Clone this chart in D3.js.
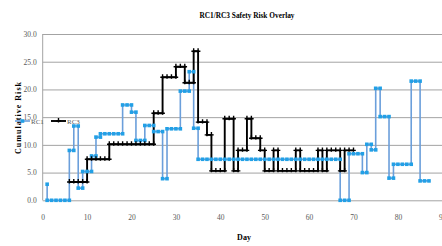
<!DOCTYPE html>
<html>
<head>
<meta charset="utf-8">
<script src="https://cdn.jsdelivr.net/npm/d3@7"></script>
<style>
  body { margin: 0; background: #fff; }
  text { font-family: "Liberation Serif", "Times New Roman", serif; }
</style>
</head>
<body>
<script>
// data: [day, cumulative risk]
const rc1 = [
  [1, 2.9], [1, 0], [2, 0], [3, 0], [4, 0], [5, 0], [6, 0],
  [6, 9.0], [7, 9.0],
  [7, 13.4], [8, 13.4],
  [8, 2.2], [9, 2.2],
  [9, 5.2], [10, 5.2], [11, 5.2],
  [11, 8.0], [12, 8.0],
  [12, 11.4], [13, 11.4],
  [13, 12.0], [14, 12.0], [15, 12.0], [16, 12.0], [17, 12.0], [18, 12.0],
  [18, 17.2], [19, 17.2], [20, 17.2],
  [20, 15.9], [21, 15.9],
  [21, 10.8], [22, 10.8], [23, 10.8],
  [23, 13.5], [24, 13.5], [25, 13.5],
  [25, 12.4], [26, 12.4], [27, 12.4],
  [27, 3.9], [28, 3.9],
  [28, 12.9], [29, 12.9], [30, 12.9], [31, 12.9],
  [31, 19.7], [32, 19.7], [33, 19.7],
  [33, 23.2], [34, 23.2],
  [34, 13.0], [35, 13.0],
  [35, 7.4], [36, 7.4], [37, 7.4], [38, 7.4], [39, 7.4], [40, 7.4], [41, 7.4],
  [42, 7.4], [43, 7.4], [44, 7.4], [45, 7.4], [46, 7.4], [47, 7.4], [48, 7.4],
  [49, 7.4], [50, 7.4], [51, 7.4], [52, 7.4], [53, 7.4], [54, 7.4], [55, 7.4],
  [56, 7.4], [57, 7.4], [58, 7.4], [59, 7.4], [60, 7.4], [61, 7.4], [62, 7.4],
  [63, 7.4], [64, 7.4], [65, 7.4], [66, 7.4], [67, 7.4],
  [67, 0], [68, 0], [69, 0],
  [69, 8.4], [70, 8.4], [71, 8.4], [72, 8.4],
  [72, 5.0], [73, 5.0],
  [73, 10.1], [74, 10.1],
  [74, 9.1], [75, 9.1],
  [75, 20.2], [76, 20.2],
  [76, 15.1], [77, 15.1], [78, 15.1],
  [78, 4.0], [79, 4.0],
  [79, 6.5], [80, 6.5], [81, 6.5], [82, 6.5], [83, 6.5],
  [83, 21.5], [84, 21.5], [85, 21.5],
  [85, 3.5], [86, 3.5], [87, 3.5]
];

const rc3 = [
  [6, 3.3], [7, 3.3], [8, 3.3], [9, 3.3], [10, 3.3],
  [10, 7.4], [11, 7.4], [12, 7.4], [13, 7.4], [14, 7.4], [15, 7.4],
  [15, 10.1], [16, 10.1], [17, 10.1], [18, 10.1], [19, 10.1], [20, 10.1],
  [21, 10.1], [22, 10.1], [23, 10.1], [24, 10.1], [25, 10.1],
  [25, 15.7], [26, 15.7], [27, 15.7],
  [27, 22.2], [28, 22.2], [29, 22.2], [30, 22.2],
  [30, 24.1], [31, 24.1], [32, 24.1],
  [32, 21.2], [33, 21.2], [34, 21.2],
  [34, 26.9], [35, 26.9],
  [35, 14.1], [36, 14.1], [37, 14.1],
  [37, 11.8], [38, 11.8],
  [38, 5.3], [39, 5.3], [40, 5.3], [41, 5.3],
  [41, 14.7], [42, 14.7], [43, 14.7],
  [43, 5.3], [44, 5.3],
  [44, 9.0], [45, 9.0], [46, 9.0],
  [46, 14.7], [47, 14.7],
  [47, 11.2], [48, 11.2], [49, 11.2],
  [49, 9.0], [50, 9.0],
  [50, 5.3], [51, 5.3], [52, 5.3],
  [52, 9.0], [53, 9.0],
  [53, 5.3], [54, 5.3], [55, 5.3], [56, 5.3], [57, 5.3],
  [57, 9.0], [58, 9.0],
  [58, 5.3], [59, 5.3], [60, 5.3], [61, 5.3], [62, 5.3],
  [62, 9.0], [63, 9.0],
  [63, 5.3], [64, 5.3],
  [64, 9.0], [65, 9.0], [66, 9.0], [67, 9.0],
  [67, 5.3], [68, 5.3],
  [68, 9.0], [69, 9.0], [70, 9.0]
];

const xTicks = [0, 10, 20, 30, 40, 50, 60, 70, 80, 90];
const yTicks = [0, 5, 10, 15, 20, 25, 30];
const seriesNames = ["RC1", "RC3"];

let xScale, yScale, svg;
const width = 442,
  height = 246,
  plotLeft = 42.7,
  plotTop = 34,
  plotBottom = 200.3;

const blueLine = "#6b9fdb",
  blueMark = "#22a0e6",
  gridColor = "#a3a3a3",
  tickColor = "#595959";

// canvas
const drawCanvas = () => {
  svg = d3
    .select("body")
    .append("svg")
    .attr("width", width)
    .attr("height", height)
    .style("background", "#fff");

  svg
    .append("text")
    .attr("x", 247)
    .attr("y", 18)
    .attr("text-anchor", "middle")
    .attr("textLength", 95)
    .attr("lengthAdjust", "spacingAndGlyphs")
    .style("font-size", "8.5px")
    .style("font-weight", "bold")
    .text("RC1/RC3 Safety Risk Overlay");

  svg
    .append("text")
    .attr("transform", "translate(21,118) rotate(-90)")
    .attr("text-anchor", "middle")
    .attr("textLength", 72)
    .attr("lengthAdjust", "spacing")
    .style("font-size", "8px")
    .style("font-weight", "bold")
    .text("Cumulative Risk");

  svg
    .append("text")
    .attr("x", 244)
    .attr("y", 240)
    .attr("text-anchor", "middle")
    .style("font-size", "8px")
    .style("font-weight", "bold")
    .text("Day");
};

// scales
const generateScales = () => {
  xScale = d3.scaleLinear().domain([0, 90]).range([plotLeft, plotLeft + 90 * 4.44]);
  yScale = d3.scaleLinear().domain([0, 30]).range([plotBottom, plotTop]);
};

// axis + gridlines
const generateAxis = () => {
  const yAxis = d3
    .axisLeft(yScale)
    .tickValues(yTicks)
    .tickFormat(d3.format(".1f"))
    .tickSize(-(width - plotLeft))
    .tickPadding(6);

  const gy = svg
    .append("g")
    .attr("transform", "translate(" + plotLeft + ",0)")
    .call(yAxis);
  gy.select(".domain").remove();
  gy.selectAll("line").attr("stroke", gridColor).attr("stroke-width", 1);
  gy.selectAll("text")
    .attr("fill", tickColor)
    .style("font-size", "7.5px")
    .style("font-family", "Liberation Serif, serif");

  svg
    .append("line")
    .attr("x1", plotLeft)
    .attr("x2", plotLeft)
    .attr("y1", plotTop)
    .attr("y2", plotBottom)
    .attr("stroke", gridColor);

  const xAxis = d3.axisBottom(xScale).tickValues(xTicks).tickSize(0).tickPadding(14);
  const gx = svg
    .append("g")
    .attr("transform", "translate(0," + plotBottom + ")")
    .call(xAxis);
  gx.select(".domain").remove();
  gx.selectAll("text")
    .attr("fill", tickColor)
    .style("font-size", "7.5px")
    .style("font-family", "Liberation Serif, serif");
};

const line = d3
  .line()
  .x((d) => xScale(d[0]))
  .y((d) => yScale(d[1]));

const crossPath = "M-2.3,0H2.3M0,-3V1.4";

// series: all lines first, then markers
const drawSeries = () => {
  svg
    .append("path")
    .datum(rc1)
    .attr("d", line)
    .attr("fill", "none")
    .attr("stroke", blueLine)
    .attr("stroke-width", 1.6);

  svg
    .append("path")
    .datum(rc3)
    .attr("d", line)
    .attr("fill", "none")
    .attr("stroke", "#000")
    .attr("stroke-width", 1.9);

  svg
    .append("g")
    .selectAll("rect")
    .data(rc1)
    .enter()
    .append("rect")
    .attr("x", (d) => xScale(d[0]) - 1.8)
    .attr("y", (d) => yScale(d[1]) - 1.8)
    .attr("width", 3.6)
    .attr("height", 3.6)
    .attr("fill", blueMark);

  svg
    .append("g")
    .selectAll("path")
    .data(rc3)
    .enter()
    .append("path")
    .attr("transform", (d) => "translate(" + xScale(d[0]) + "," + yScale(d[1]) + ")")
    .attr("d", crossPath)
    .attr("stroke", "#000")
    .attr("stroke-width", 1.4)
    .attr("fill", "none");
};

// legend
const drawLegend = () => {
  const lg = svg.append("g");
  const items = [
    { name: seriesNames[0], x: 15, color: blueLine },
    { name: seriesNames[1], x: 51, color: "#000" },
  ];
  const ly = 121;

  items.forEach((it, i) => {
    lg.append("line")
      .attr("x1", it.x)
      .attr("x2", it.x + 15)
      .attr("y1", ly)
      .attr("y2", ly)
      .attr("stroke", it.color)
      .attr("stroke-width", i === 0 ? 1.6 : 1.9);
    if (i === 0) {
      lg.append("rect")
        .attr("x", it.x + 7.5 - 1.8)
        .attr("y", ly - 1.8)
        .attr("width", 3.6)
        .attr("height", 3.6)
        .attr("fill", blueMark);
    } else {
      lg.append("path")
        .attr("transform", "translate(" + (it.x + 7.5) + "," + ly + ")")
        .attr("d", crossPath)
        .attr("stroke", "#000")
        .attr("stroke-width", 1.4);
    }
    lg.append("text")
      .attr("x", it.x + 16)
      .attr("y", ly + 2.5)
      .attr("fill", tickColor)
      .style("font-size", "7px")
      .text(it.name);
  });
};

drawCanvas();
generateScales();
generateAxis();
drawSeries();
drawLegend();
</script>
</body>
</html>
